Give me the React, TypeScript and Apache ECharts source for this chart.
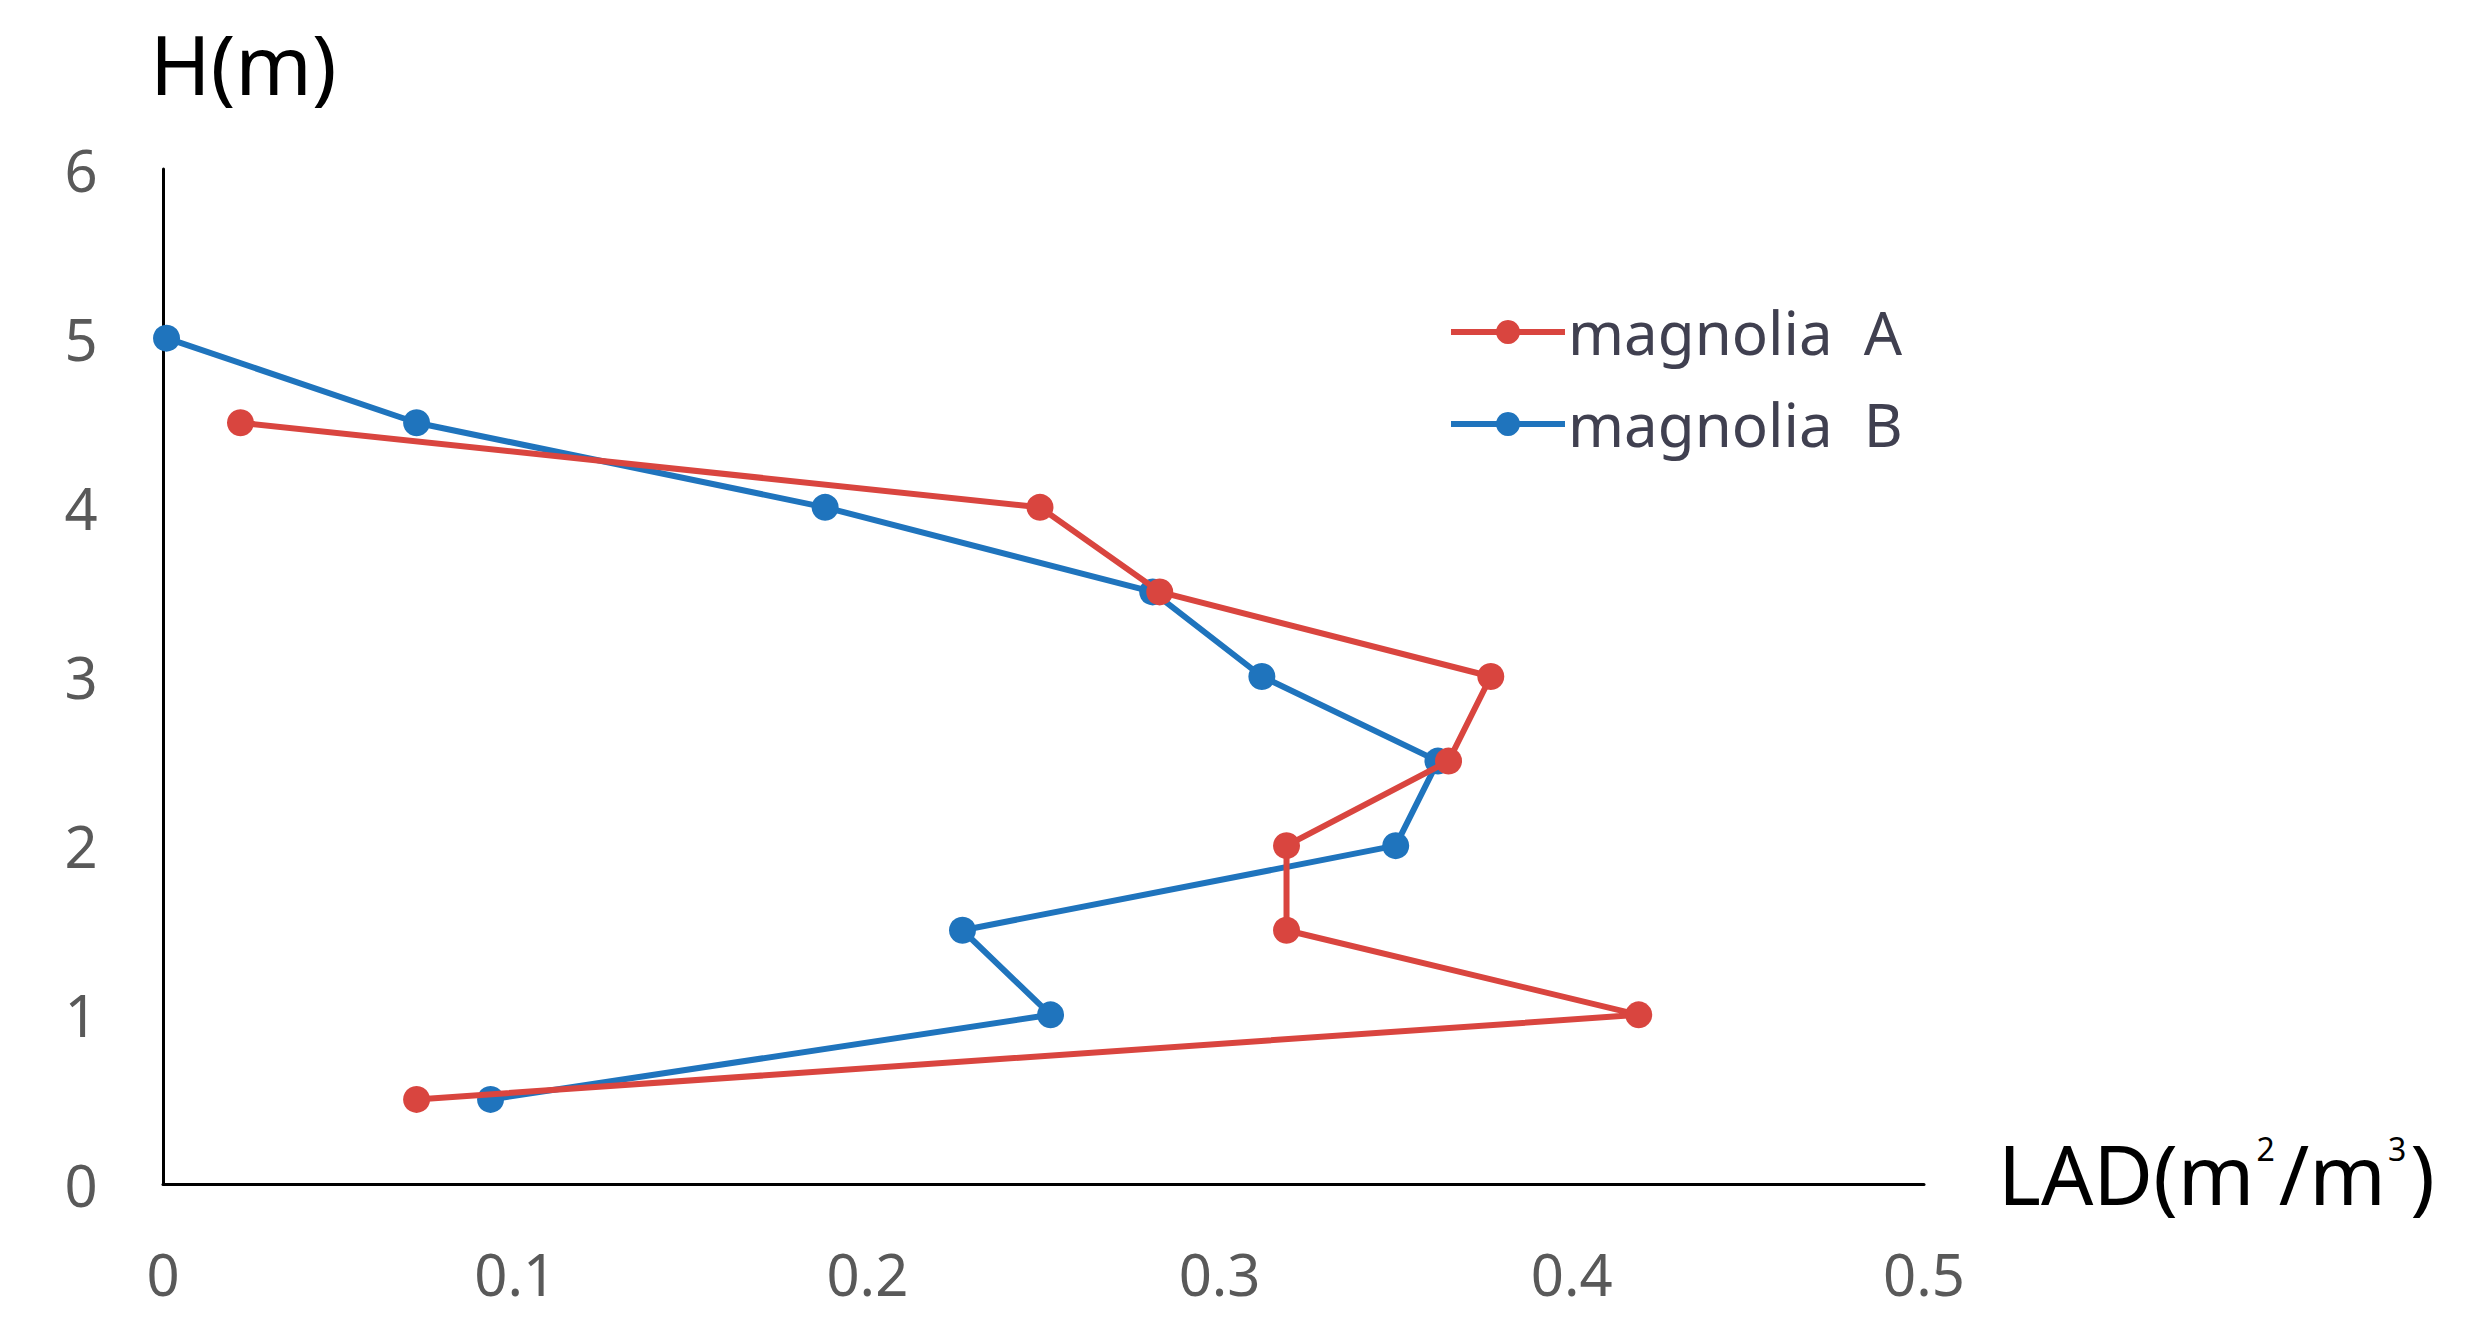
import React, { useEffect, useRef } from "react";
import * as echarts from "echarts";

const heightsA = [4.5, 4, 3.5, 3, 2.5, 2, 1.5, 1, 0.5];
const ladA = [0.022, 0.249, 0.283, 0.377, 0.365, 0.319, 0.319, 0.419, 0.072];
const heightsB = [5, 4.5, 4, 3.5, 3, 2.5, 2, 1.5, 1, 0.5];
const ladB = [0.001, 0.072, 0.188, 0.281, 0.312, 0.362, 0.35, 0.227, 0.252, 0.093];
const xTicks = [0, 0.1, 0.2, 0.3, 0.4, 0.5];
const yTicks = [0, 1, 2, 3, 4, 5, 6];
const seriesNames = ["magnolia  A", "magnolia  B"];

const RED = "#D9453F";
const BLUE = "#1F74BD";
const GRAY = "#595959";
const FONT = "'Noto Sans', 'Open Sans', sans-serif";

export default function App() {
  const ref = useRef<HTMLDivElement>(null);
  useEffect(() => {
    if (!ref.current) return;
    const chart = echarts.init(ref.current, undefined, { renderer: "svg" });
    const mk = (xs: number[], ys: number[]) => xs.map((x, i) => [x, ys[i]]);
    chart.setOption({
      animation: false,
      backgroundColor: "#ffffff",
      grid: { left: 163, right: 546, top: 169, bottom: 146, containLabel: false },
      xAxis: {
        type: "value",
        min: xTicks[0],
        max: xTicks[xTicks.length - 1],
        interval: 0.1,
        axisLine: { show: true, lineStyle: { color: "#000", width: 3 } },
        axisTick: { show: false },
        splitLine: { show: false },
        axisLabel: {
          color: GRAY,
          fontSize: 58,
          fontFamily: FONT,
          margin: 60,
          formatter: (v: number) => String(Math.round(v * 10) / 10),
        },
      },
      yAxis: {
        type: "value",
        min: yTicks[0],
        max: yTicks[yTicks.length - 1],
        interval: 1,
        axisLine: { show: true, lineStyle: { color: "#000", width: 3 } },
        axisTick: { show: false },
        splitLine: { show: false },
        axisLabel: {
          color: GRAY,
          fontSize: 58,
          fontFamily: FONT,
          margin: 82,
          align: "center",
        },
      },
      legend: {
        orient: "vertical",
        left: 1448,
        top: 302,
        padding: 0,
        itemWidth: 114,
        itemHeight: 30,
        itemGap: 32,
        lineStyle: { width: 6 },
        textStyle: { color: "#404050", fontSize: 60, lineHeight: 60, fontFamily: FONT, padding: [0, 0, 0, -2] },
        data: seriesNames,
      },
      graphic: [
        {
          type: "text",
          left: 150,
          top: 22,
          style: { text: "H(m)", fontSize: 82, fontFamily: FONT, fill: "#000" },
        },
        {
          type: "text",
          left: 1998,
          top: 1132,
          style: {
            text: "LAD(m{s|2}/m{s|3})",
            fontSize: 82,
            fontFamily: FONT,
            fill: "#000",
            rich: {
              s: { fontSize: 32, fontFamily: FONT, fill: "#000", verticalAlign: "top", padding: [0, 4, 46, 2] },
            },
          } as any,
        },
      ],
      series: [
        {
          name: seriesNames[0],
          type: "line",
          data: mk(ladA, heightsA),
          symbol: "circle",
          symbolSize: 27,
          lineStyle: { color: RED, width: 6 },
          itemStyle: { color: RED },
          z: 3,
        },
        {
          name: seriesNames[1],
          type: "line",
          data: mk(ladB, heightsB),
          symbol: "circle",
          symbolSize: 27,
          lineStyle: { color: BLUE, width: 6 },
          itemStyle: { color: BLUE },
          z: 2,
        },
      ],
    });
    return () => chart.dispose();
  }, []);
  return (
    <div
      ref={ref}
      style={{ position: "fixed", left: 0, top: 0, width: 2470, height: 1330, background: "#fff" }}
    />
  );
}
